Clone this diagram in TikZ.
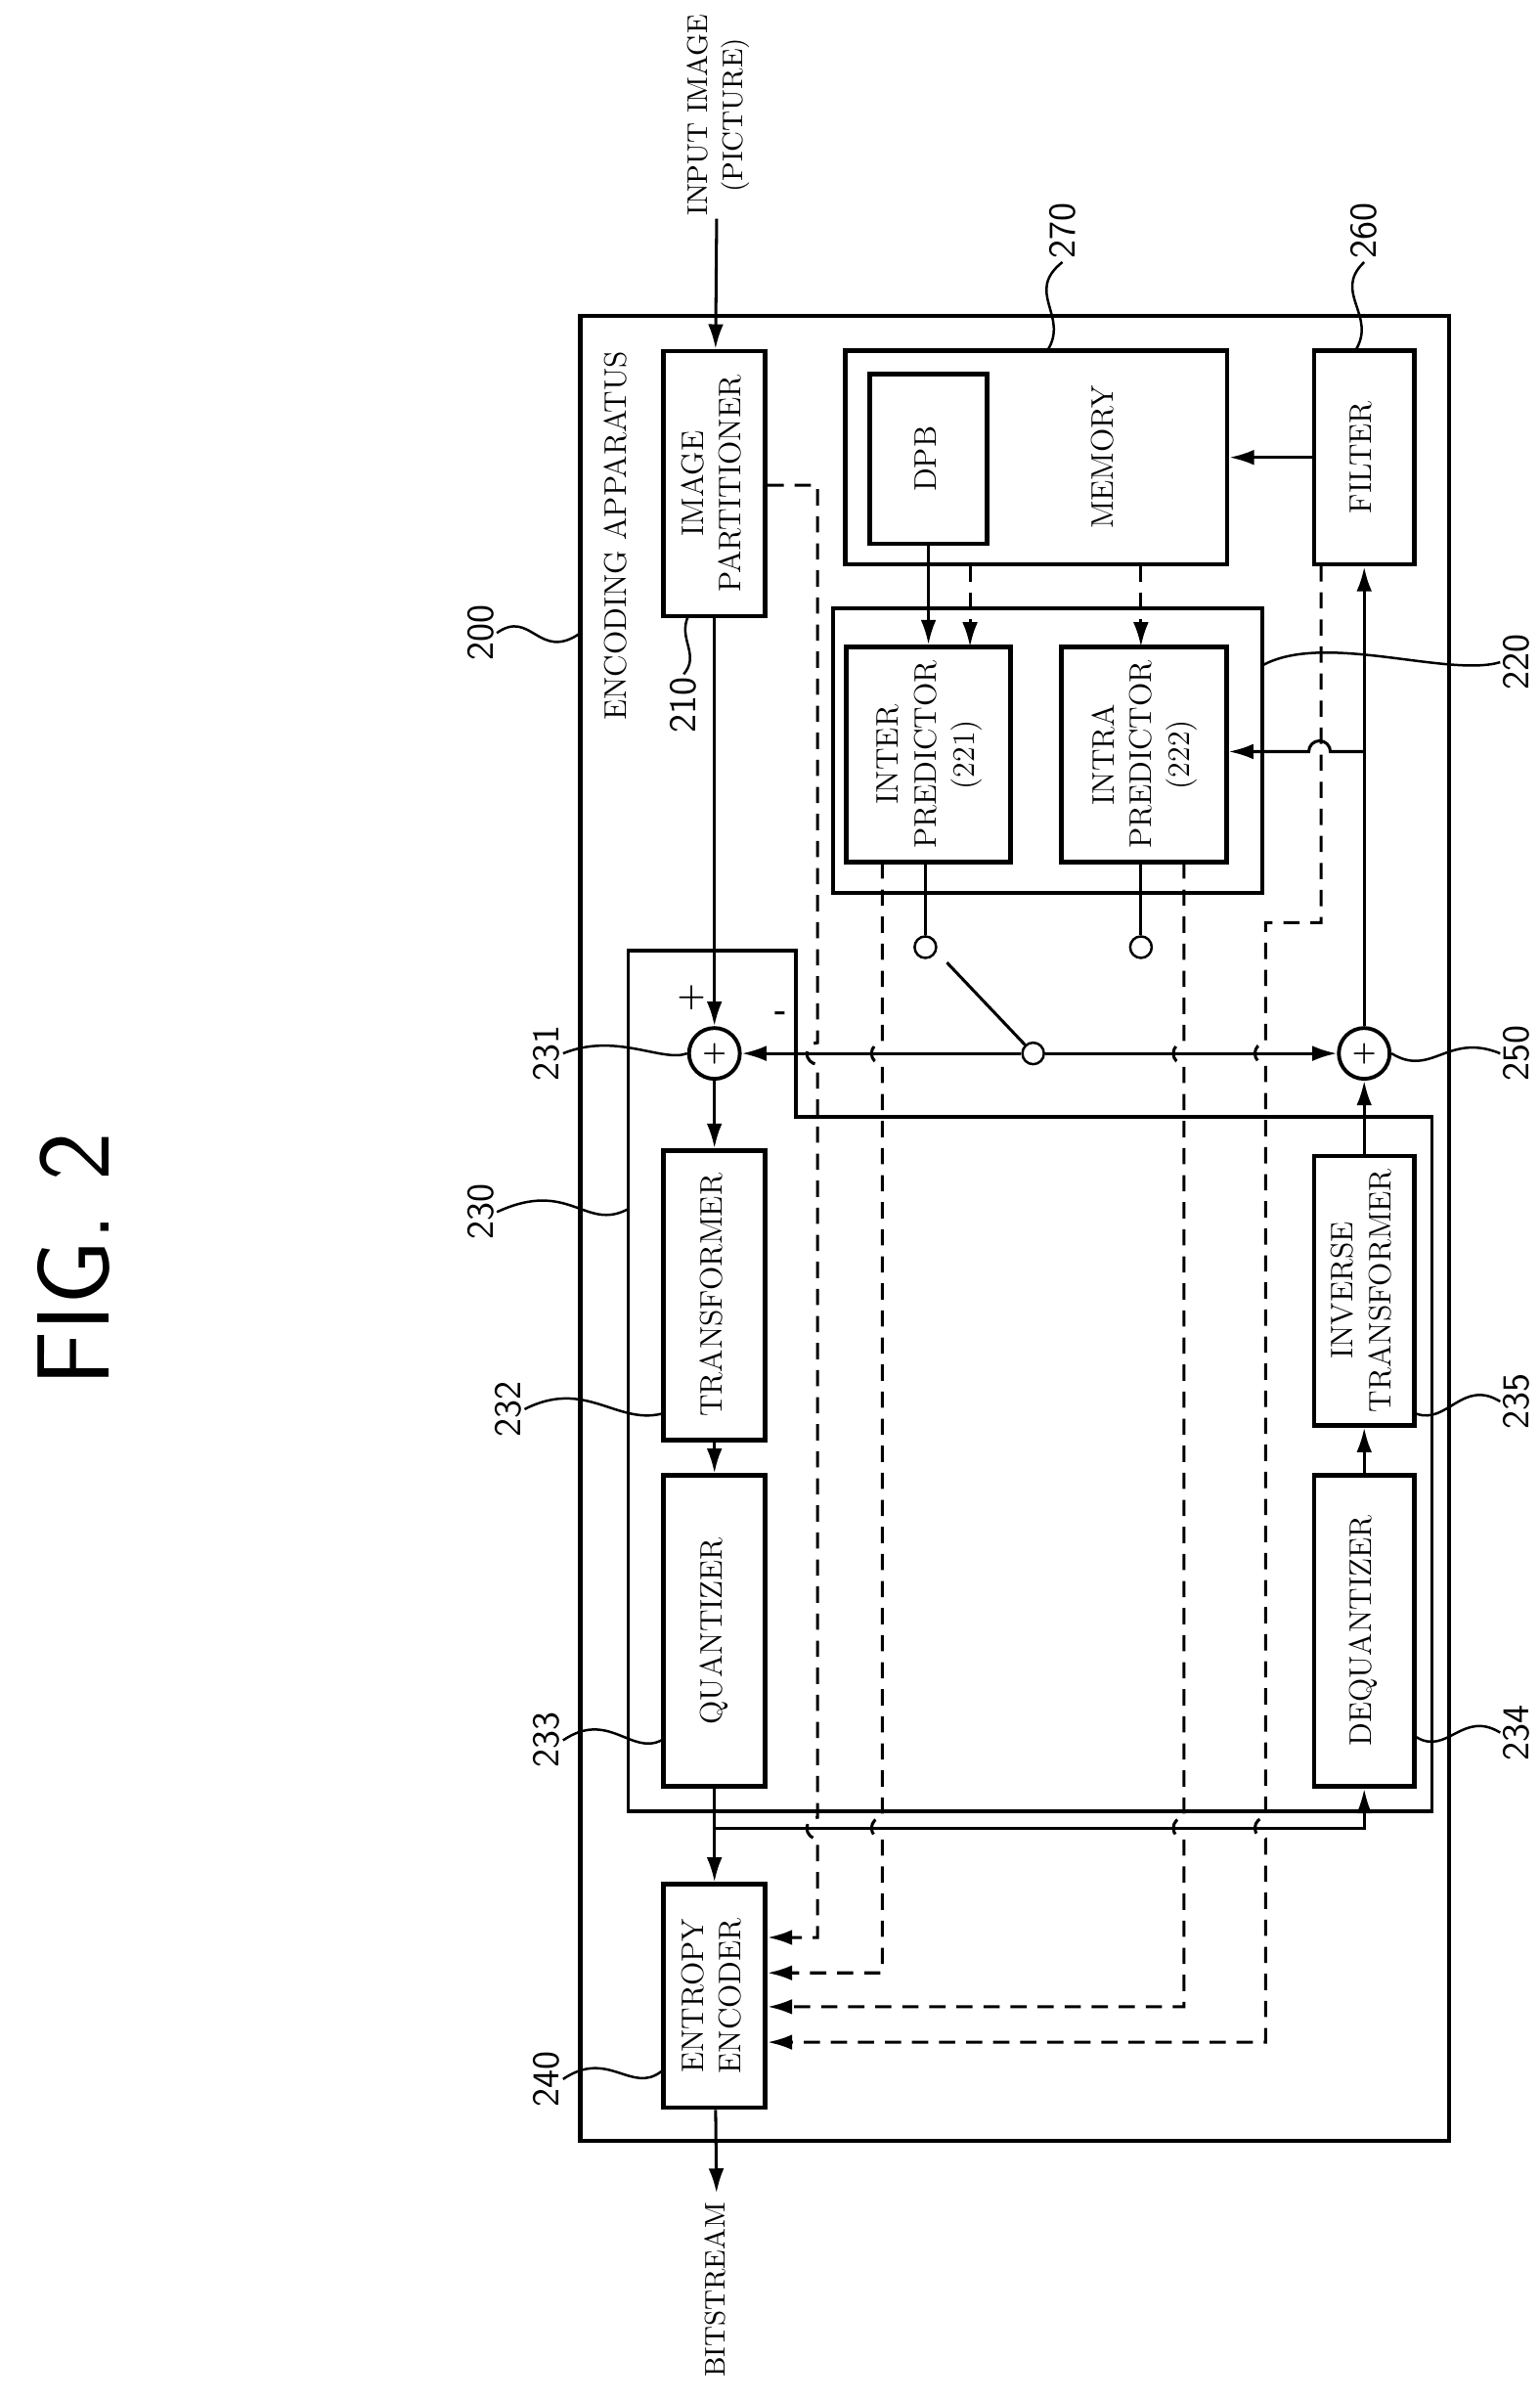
\documentclass[tikz,border=0pt]{standalone}
\usepackage{graphicx}
\usetikzlibrary{arrows.meta}

\newcommand{\vtext}[1]{\rotatebox{90}{\begin{tabular}{@{}c@{}}#1\end{tabular}}}
\newcommand{\boxfont}{\fontsize{11.5}{14}\selectfont}
\newcommand{\outfont}{\fontsize{10.5}{13}\selectfont}
\newcommand{\numfont}{\sffamily\fontsize{14}{16}\selectfont}

\tikzset{
  box/.style = {draw, line width=1.7pt, inner sep=0pt, font=\boxfont},
  frame/.style = {draw, line width=1.4pt},
  wire/.style = {line width=1.1pt},
  arr/.style = {wire, -{Latex[length=0.32cm,width=0.2cm]}},
  dsh/.style = {arr, dash pattern=on 6pt off 4pt},
  lead/.style = {line width=0.9pt},
  num/.style = {font=\numfont, inner sep=1pt},
  sum/.style = {draw, circle, line width=1.4pt, minimum size=0.66cm, inner sep=0pt},
  tap/.style = {draw, circle, line width=0.9pt, minimum size=0.28cm, inner sep=0pt},
}

\begin{document}
\begin{tikzpicture}[x=0.02cm, y=-0.02cm]
\useasboundingbox (0,0) rectangle (1000,1559);

\node[font=\sffamily\fontsize{38}{40}\selectfont] (fig) at (48,818) {\rotatebox{90}{FIG. 2}};

% outer apparatus
\draw[line width=1.6pt] (377,205) rectangle (941,1390);
\node[font=\boxfont] (apptext) at (400,348) {\rotatebox{90}{ENCODING APPARATUS}};
\node[font=\outfont, anchor=south, inner sep=1pt] (intext) at (466,142) {\vtext{INPUT IMAGE\\(PICTURE)}};
\node[font=\outfont, anchor=north] (outtext) at (466,1424) {\vtext{BITSTREAM}};

% blocks
\node[box, minimum width=1.32cm, minimum height=3.44cm] (part) at (464,314) {\vtext{IMAGE\\PARTITIONER}};
\node[box, minimum width=1.32cm, minimum height=3.76cm] (trans) at (464,841) {\vtext{TRANSFORMER}};
\node[box, minimum width=1.32cm, minimum height=4.04cm] (quant) at (464,1059) {\vtext{QUANTIZER}};
\node[box, minimum width=1.32cm, minimum height=2.9cm] (entropy) at (464,1296) {\vtext{ENTROPY\\ENCODER}};
\node[box, minimum width=1.3cm, minimum height=2.78cm] (filter) at (886,297) {\vtext{FILTER}};
\node[box, minimum width=1.3cm, minimum height=3.5cm] (invtrans) at (886,838) {\vtext{INVERSE\\TRANSFORMER}};
\node[box, minimum width=1.3cm, minimum height=4.04cm] (dequant) at (886,1059) {\vtext{DEQUANTIZER}};
\node[box, minimum width=4.96cm, minimum height=2.78cm] (memory) at (673,297) {};
\node[font=\boxfont] (memtext) at (718,297) {\vtext{MEMORY}};
\node[box, minimum width=1.52cm, minimum height=2.2cm] (dpb) at (603,298) {\vtext{DPB}};
\draw[frame] (541,395) rectangle (820,580);
\node[box, minimum width=2.14cm, minimum height=2.8cm] (inter) at (603,490) {\vtext{INTER\\PREDICTOR\\(221)}};
\node[box, minimum width=2.14cm, minimum height=2.8cm] (intra) at (743,490) {\vtext{INTRA\\PREDICTOR\\(222)}};
\draw[frame] (408,617) -- (517,617) -- (517,725) -- (930,725) -- (930,1176) -- (408,1176) -- cycle;

\node[sum] (add1) at (464,684) {\textbf{+}};
\node[sum] (add2) at (886,684) {\textbf{+}};
\node[tap] (tapA) at (601,615) {};
\node[tap] (tapB) at (741,615) {};
\node[tap] (sw) at (671,684) {};
\node[font=\bfseries\large] (plus) at (449,648) {+};
\node[font=\bfseries\large] (minus) at (507,660) {-};
\coordinate (fork) at (464,1187);
\coordinate (bend) at (886,1187);

% main path
\draw[arr] (intext) -- (part);
\draw[arr] (part) -- (add1);
\draw[arr] (add1) -- (trans);
\draw[arr] (trans) -- (quant);
\draw[arr] (quant) -- (entropy);
\draw[arr] (entropy) -- (outtext);
\draw[arr] (fork) -- (bend) -- (dequant);
\draw[arr] (dequant) -- (invtrans);
\draw[arr] (invtrans) -- (add2);
\draw[arr] (add2) -- (filter);
\draw[arr] (filter.west |- memory.east) -- (memory.east);
\draw[arr] (886,488) -- (864,488) arc[start angle=0, end angle=180, radius=0.14cm] -- (intra.east |- 0,488);
\draw[arr] (sw) -- (add1);
\draw[arr] (sw) -- (add2);
\draw[wire] (sw) -- (615,625);
\draw[arr] (dpb) -- (inter);
\draw[dsh] (630,367) -- (630,420);
\draw[dsh] (741,367) -- (741,420);
\draw[wire] (inter.south -| tapA) -- (tapA);
\draw[wire] (intra.south -| tapB) -- (tapB);

% side information to the entropy encoder
\draw[dsh] (part.east |- 0,315) -- (531,315) -- (531,677) arc[start angle=90, end angle=270, radius=0.14cm]
  -- (531,1180) arc[start angle=90, end angle=270, radius=0.14cm] -- (531,1258) -- (entropy.east |- 0,1258);
\draw[dsh] (573,560) -- (573,677) arc[start angle=90, end angle=270, radius=0.14cm]
  -- (573,1180) arc[start angle=90, end angle=270, radius=0.14cm] -- (573,1281) -- (entropy.east |- 0,1281);
\draw[dsh] (769,560) -- (769,677) arc[start angle=90, end angle=270, radius=0.14cm]
  -- (769,1180) arc[start angle=90, end angle=270, radius=0.14cm] -- (769,1303) -- (entropy.east |- 0,1303);
\draw[dsh] (858,367) -- (858,599) -- (822,599) -- (822,677) arc[start angle=90, end angle=270, radius=0.14cm]
  -- (822,1180) arc[start angle=90, end angle=270, radius=0.14cm] -- (822,1326) -- (entropy.east |- 0,1326);

% reference numerals
\node[num] (n200) at (312,411) {\rotatebox{90}{200}};
\draw[lead] (n200.east) .. controls (345,395) and (350,430) .. (377,411);
\node[num] (n210) at (444,458) {\rotatebox{90}{210}};
\draw[lead] (n210.north) .. controls (455,425) and (440,415) .. (447,400);
\node[num] (n270) at (690,150) {\rotatebox{90}{270}};
\draw[lead] (n270.south) .. controls (665,190) and (695,205) .. (680,228);
\node[num] (n260) at (886,150) {\rotatebox{90}{260}};
\draw[lead] (n260.south) .. controls (865,190) and (895,205) .. (880,228);
\node[num] (n220) at (985,430) {\rotatebox{90}{220}};
\draw[lead] (n220.west) .. controls (940,440) and (860,410) .. (820,432);
\node[num] (n231) at (355,684) {\rotatebox{90}{231}};
\draw[lead] (n231.east) .. controls (400,670) and (430,690) .. (add1.west);
\node[num] (n250) at (985,684) {\rotatebox{90}{250}};
\draw[lead] (n250.west) .. controls (940,670) and (930,700) .. (add2.east);
\node[num] (n230) at (312,787) {\rotatebox{90}{230}};
\draw[lead] (n230.east) .. controls (370,765) and (380,800) .. (408,785);
\node[num] (n232) at (330,915) {\rotatebox{90}{232}};
\draw[lead] (n232.east) .. controls (380,895) and (400,925) .. (trans.west |- 0,918);
\node[num] (n233) at (355,1130) {\rotatebox{90}{233}};
\draw[lead] (n233.east) .. controls (395,1110) and (410,1140) .. (quant.west |- 0,1130);
\node[num] (n240) at (355,1350) {\rotatebox{90}{240}};
\draw[lead] (n240.east) .. controls (395,1330) and (410,1360) .. (entropy.west |- 0,1345);
\node[num] (n235) at (985,910) {\rotatebox{90}{235}};
\draw[lead] (n235.west) .. controls (950,895) and (940,925) .. (invtrans.east |- 0,918);
\node[num] (n234) at (985,1125) {\rotatebox{90}{234}};
\draw[lead] (n234.west) .. controls (950,1110) and (940,1140) .. (dequant.east |- 0,1128);
\end{tikzpicture}
\end{document}
